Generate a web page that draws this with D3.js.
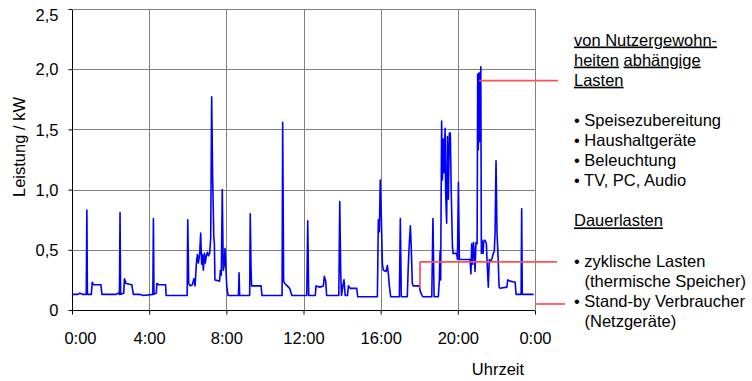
<!DOCTYPE html>
<html>
<head>
<meta charset="utf-8">
<script src="https://cdn.jsdelivr.net/npm/d3@7"></script>
<style>
  html, body { margin: 0; padding: 0; background: #fff; }
  svg { display: block; font-family: "Liberation Sans", Arial, sans-serif; }
</style>
</head>
<body>
<svg id="chart" width="752" height="381"></svg>
<script>
// ---- data (time in hours, power in kW) ----
const times = [
  0.00, 0.30, 0.40, 0.55, 0.74, 0.77, 0.80, 1.00, 1.05, 1.12, 1.50, 1.55,
  2.00, 2.30, 2.40, 2.46, 2.49, 2.52, 2.68, 2.72, 2.80, 3.10, 3.18, 3.50, 3.70,
  4.19, 4.22, 4.25, 4.37, 4.40, 4.50, 4.85, 4.88, 5.50, 5.97, 6.00,
  6.05, 6.13, 6.24, 6.32, 6.38, 6.45, 6.50, 6.55, 6.62, 6.67, 6.72, 6.76, 6.81,
  6.86, 6.91, 6.96, 7.02, 7.07, 7.14, 7.19, 7.24, 7.29, 7.35, 7.38, 7.41, 7.65,
  7.69, 7.74, 7.79, 7.84, 7.90, 7.93, 7.97, 8.02, 8.09,
  8.63, 8.66, 8.69, 9.21, 9.24, 9.28, 9.31, 9.80, 9.85,
  10.89, 10.92, 10.97, 11.03, 11.16, 11.28, 11.40,
  12.17, 12.22, 12.27, 12.61, 12.65, 12.85, 13.03, 13.08, 13.15, 13.20,
  13.83, 13.88, 13.93, 13.97, 14.04, 14.10, 14.16, 14.28, 14.33, 14.42, 14.76, 14.81,
  15.83, 15.88, 15.93, 15.98, 16.03, 16.09, 16.14, 16.28, 16.35, 16.40, 16.45, 16.52,
  16.97, 17.02, 17.07, 17.38, 17.43, 17.48, 17.54, 17.59, 17.64, 17.69, 18.00, 18.06, 18.18,
  18.65, 18.71, 18.77, 18.99, 19.04, 19.08, 19.11, 19.16, 19.20, 19.25, 19.28, 19.34,
  19.37, 19.42, 19.46, 19.51, 19.56, 19.61, 19.66, 19.72, 19.75, 19.94, 19.98, 20.03,
  20.08, 20.63, 20.68, 20.72, 20.77, 20.81, 20.86, 20.89, 20.94, 21.00, 21.03, 21.06,
  21.10, 21.13, 21.19, 21.22, 21.25, 21.31, 21.34, 21.41, 21.48, 21.51, 21.58, 21.63,
  21.69, 21.76, 21.82, 21.89, 21.93, 21.98, 22.03, 22.08, 22.14, 22.19, 22.54, 22.59,
  22.71, 22.97, 23.02, 23.22, 23.28, 23.31, 23.34, 23.93
];
const power = [
  0.13, 0.13, 0.14, 0.13, 0.13, 0.83, 0.13, 0.13, 0.23, 0.21, 0.21, 0.13,
  0.13, 0.13, 0.14, 0.13, 0.81, 0.13, 0.14, 0.26, 0.22, 0.21, 0.13, 0.13, 0.12,
  0.13, 0.76, 0.13, 0.14, 0.22, 0.21, 0.21, 0.12, 0.12, 0.12, 0.75,
  0.22, 0.20, 0.21, 0.26, 0.20, 0.39, 0.46, 0.39, 0.47, 0.64, 0.38, 0.46, 0.33,
  0.47, 0.39, 0.45, 0.48, 0.45, 0.47, 0.60, 1.77, 1.11, 0.61, 0.55, 0.25, 0.24,
  0.33, 0.29, 1.00, 0.33, 0.38, 0.51, 0.38, 0.20, 0.12,
  0.12, 0.31, 0.12, 0.12, 0.80, 0.35, 0.20, 0.20, 0.12,
  0.12, 1.56, 0.24, 0.22, 0.20, 0.18, 0.12,
  0.12, 0.74, 0.12, 0.12, 0.20, 0.19, 0.20, 0.28, 0.24, 0.12,
  0.12, 0.90, 0.30, 0.12, 0.20, 0.25, 0.12, 0.12, 0.20, 0.18, 0.18, 0.11,
  0.11, 0.75, 0.65, 1.08, 0.80, 0.38, 0.33, 0.32, 0.37, 0.30, 0.20, 0.11,
  0.11, 0.76, 0.11, 0.11, 0.36, 0.54, 0.70, 0.50, 0.22, 0.20, 0.20, 0.15, 0.11,
  0.11, 0.76, 0.11, 0.11, 0.25, 0.49, 0.25, 1.57, 1.08, 1.42, 1.14, 1.51,
  0.97, 0.72, 1.44, 0.92, 1.47, 1.47, 0.97, 0.53, 0.47, 0.47, 0.42, 1.06,
  0.42, 0.42, 0.30, 0.55, 0.38, 0.56, 0.47, 0.32, 0.56, 0.55, 1.96, 1.33,
  1.97, 1.40, 2.02, 0.47, 0.58, 0.47, 0.57, 0.58, 0.55, 0.42, 0.19, 0.42,
  0.40, 0.42, 0.46, 0.49, 0.64, 1.24, 0.64, 0.47, 0.19, 0.18, 0.19, 0.25,
  0.24, 0.23, 0.13, 0.13, 0.13, 0.84, 0.13, 0.13
];
const xTickValues = [0, 4, 8, 12, 16, 20, 24];
const xTickLabels = ["0:00", "4:00", "8:00", "12:00", "16:00", "20:00", "0:00"];
const yTickValues = [0, 0.5, 1.0, 1.5, 2.0, 2.5];
const yTickLabels = ["0", "0,5", "1,0", "1,5", "2,0", "2,5"];
const yTitle = "Leistung / kW";
const xTitle = "Uhrzeit";

// annotation anchors (time h, power kW) for the red connector lines
const connectorTime = [21.10, 18.04, 24.0];
const connectorPower = [1.905, 0.40, 0.05];
const connectorDrop = [null, 0.18, null];

// legend text lines: segments {t, u}
const legendLines = [
  [{t: "von Nutzergewohn-", u: true}],
  [{t: "heiten", u: true}, {t: " ", u: false}, {t: "abhängige", u: true}],
  [{t: "Lasten", u: true}],
  [{t: "• Speisezubereitung", u: false}],
  [{t: "• Haushaltgeräte", u: false}],
  [{t: "• Beleuchtung", u: false}],
  [{t: "• TV, PC, Audio", u: false}],
  [{t: "Dauerlasten", u: true}],
  [{t: "• zyklische Lasten", u: false}],
  [{t: "(thermische Speicher)", u: false}],
  [{t: "• Stand-by Verbraucher", u: false}],
  [{t: "(Netzgeräte)", u: false}]
];
const legendIndent = [0, 0, 0, 0, 0, 0, 0, 0, 0, 1, 0, 1];
const legendRow = [0, 1, 2, 4, 5, 6, 7, 9, 11, 12, 13, 14];

// ---- drawing ----
(function draw() {
  const svg = d3.select("#chart");
  const pL = 72, pR = 535, pT = 9, pB = 310;
  const fontSize = 16.5;

  const x = d3.scaleLinear().domain([0, 24]).range([pL, pR]);
  const y = d3.scaleLinear().domain([0, 2.5]).range([pB, pT]);

  // grid
  const grid = svg.append("g").attr("shape-rendering", "crispEdges");
  grid.selectAll("line.h").data(yTickValues.slice(1)).join("line")
    .attr("x1", pL).attr("x2", pR)
    .attr("y1", d => Math.round(y(d)) + 0.5).attr("y2", d => Math.round(y(d)) + 0.5)
    .attr("stroke", "#808080").attr("stroke-width", 1);
  grid.selectAll("line.v").data(xTickValues.slice(1)).join("line")
    .attr("y1", pT).attr("y2", pB)
    .attr("x1", d => Math.round(x(d)) + 0.5).attr("x2", d => Math.round(x(d)) + 0.5)
    .attr("stroke", "#808080").attr("stroke-width", 1);

  // axes
  const yAxis = d3.axisLeft(y).tickValues(yTickValues).tickSize(4)
    .tickFormat((d, i) => yTickLabels[i]);
  const gy = svg.append("g").attr("transform", `translate(${pL + 0.5},0)`).call(yAxis);
  gy.select(".domain").remove();
  gy.append("line").attr("x1", 0).attr("x2", 0).attr("y1", pT).attr("y2", pB + 0.5)
    .attr("stroke", "#000");
  gy.selectAll(".tick line").attr("stroke", "#000");
  gy.selectAll(".tick text")
    .attr("font-size", fontSize).attr("fill", "#000")
    .attr("font-family", "Liberation Sans, Arial, sans-serif")
    .attr("x", -14)
    .attr("dy", d => (y(d) < 14 ? "0.7em" : "0.35em"));

  const xAxis = d3.axisBottom(x).tickValues(xTickValues).tickSize(4)
    .tickFormat((d, i) => xTickLabels[i]).tickPadding(18);
  const gx = svg.append("g").attr("transform", `translate(0,${pB + 0.5})`).call(xAxis);
  gx.select(".domain").remove();
  gx.append("line").attr("x1", pL).attr("x2", pR).attr("y1", 0).attr("y2", 0)
    .attr("stroke", "#000");
  gx.selectAll(".tick line").attr("stroke", "#000");
  gx.selectAll(".tick text")
    .attr("font-size", fontSize).attr("fill", "#000")
    .attr("font-family", "Liberation Sans, Arial, sans-serif")
    .attr("dx", d => (d === 0 ? 8 : 0));

  // top and right border
  svg.append("line").attr("x1", pL).attr("x2", pR + 0.5)
    .attr("y1", pT + 0.5).attr("y2", pT + 0.5).attr("stroke", "#808080");
  svg.append("line").attr("x1", pR + 0.5).attr("x2", pR + 0.5)
    .attr("y1", pT).attr("y2", pB).attr("stroke", "#808080");

  // data line
  const series = times.map((t, i) => ({t, v: power[i]}));
  svg.append("path").datum(series)
    .attr("fill", "none").attr("stroke", "#0000ff").attr("stroke-width", 1.6)
    .attr("stroke-linejoin", "round")
    .attr("d", d3.line().x(d => x(d.t)).y(d => y(d.v)));

  // axis titles
  svg.append("text").attr("transform", "translate(25,147) rotate(-90)")
    .attr("text-anchor", "middle").attr("font-size", fontSize).text(yTitle);
  svg.append("text").attr("x", 498).attr("y", 375)
    .attr("text-anchor", "middle").attr("font-size", fontSize).text(xTitle);

  // connector lines
  const legendX = 574;
  const connectorEnd = [558, 557, 565];
  connectorTime.forEach((t, i) => {
    const yy = y(connectorPower[i]);
    svg.append("line").attr("x1", x(t)).attr("x2", connectorEnd[i])
      .attr("y1", yy).attr("y2", yy)
      .attr("stroke", "#ff5050").attr("stroke-width", 1.7);
    if (connectorDrop[i] !== null) {
      svg.append("line").attr("x1", x(t)).attr("x2", x(t))
        .attr("y1", yy).attr("y2", y(connectorDrop[i]))
        .attr("stroke", "#ff5050").attr("stroke-width", 1.7);
    }
  });

  // legend text
  const lineStep = 20.1, firstBase = 45.5;
  legendLines.forEach((segs, i) => {
    const tx = svg.append("text")
      .attr("x", legendX + legendIndent[i] * 10.5)
      .attr("y", firstBase + legendRow[i] * lineStep)
      .attr("font-size", fontSize).attr("fill", "#000")
      .style("white-space", "pre");
    segs.forEach(s => {
      tx.append("tspan").text(s.t)
        .attr("text-decoration", s.u ? "underline" : "none");
    });
  });
})();
</script>
</body>
</html>
